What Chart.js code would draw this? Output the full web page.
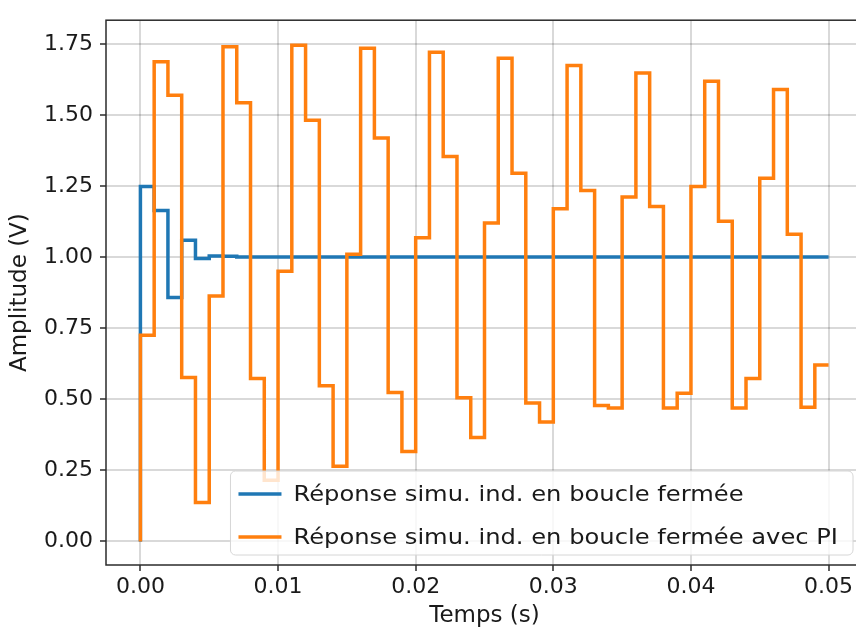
<!DOCTYPE html>
<html>
<head>
<meta charset="utf-8">
<script src="https://cdn.jsdelivr.net/npm/chart.js@4.4.1/dist/chart.umd.min.js"></script>
<style>
  html, body { margin: 0; padding: 0; background: #fff; overflow: hidden; }
  #wrap { width: 856px; height: 630px; overflow: hidden; }
</style>
</head>
<body>
<div id="wrap"><canvas id="stepCanvas" width="880" height="630"></canvas></div>
<script>
// temps d'échantillonnage (s)
var temps = [0, 0.001, 0.002, 0.003, 0.004, 0.005, 0.006, 0.007, 0.008, 0.009,
  0.010, 0.011, 0.012, 0.013, 0.014, 0.015, 0.016, 0.017, 0.018, 0.019,
  0.020, 0.021, 0.022, 0.023, 0.024, 0.025, 0.026, 0.027, 0.028, 0.029,
  0.030, 0.031, 0.032, 0.033, 0.034, 0.035, 0.036, 0.037, 0.038, 0.039,
  0.040, 0.041, 0.042, 0.043, 0.044, 0.045, 0.046, 0.047, 0.048, 0.049, 0.050];

// réponse en boucle fermée
var reponseBF = [0, 1.248, 1.164, 0.858, 1.059, 0.995, 1.004, 1.003, 1, 1,
  1, 1, 1, 1, 1, 1, 1, 1, 1, 1,
  1, 1, 1, 1, 1, 1, 1, 1, 1, 1,
  1, 1, 1, 1, 1, 1, 1, 1, 1, 1,
  1, 1, 1, 1, 1, 1, 1, 1, 1, 1, 1];

// réponse en boucle fermée avec PI
var reponsePI = [0, 0.725, 1.687, 1.569, 0.576, 0.137, 0.863, 1.740, 1.543, 0.573,
  0.215, 0.950, 1.745, 1.481, 0.547, 0.264, 1.010, 1.734, 1.419, 0.524,
  0.316, 1.068, 1.720, 1.354, 0.505, 0.365, 1.120, 1.699, 1.295, 0.487,
  0.420, 1.170, 1.674, 1.234, 0.478, 0.469, 1.211, 1.647, 1.178, 0.469,
  0.521, 1.248, 1.618, 1.126, 0.469, 0.573, 1.277, 1.589, 1.080, 0.472, 0.620];

var xTicks = [0, 0.01, 0.02, 0.03, 0.04, 0.05];
var yTicks = [0, 0.25, 0.5, 0.75, 1, 1.25, 1.5, 1.75];

var labels = ["Réponse simu. ind. en boucle fermée", "Réponse simu. ind. en boucle fermée avec PI"];

function toPoints(ys) {
  return temps.map(function (t, i) { return { x: t, y: ys[i] }; });
}

var police = "'DejaVu Sans', sans-serif";

// cadre complet autour de la zone de tracé + légende façon matplotlib
var cadrePlugin = {
  id: "cadre",
  afterDatasetsDraw: function (chart) {
    var ctx = chart.ctx, a = chart.chartArea;
    ctx.save();
    ctx.strokeStyle = "#2b2b2b";
    ctx.lineWidth = 1.5;
    ctx.strokeRect(a.left, a.top, a.right - a.left, a.bottom - a.top);

    // légende (texte un peu étiré comme sur l'original)
    var etire = 1.1;
    ctx.font = "22px " + police;
    var w = 0;
    chart.data.datasets.forEach(function (ds) {
      w = Math.max(w, ctx.measureText(ds.label).width * etire);
    });
    var boxW = w + 78, boxH = 84;
    var bx = 853 - boxW, by = a.bottom - 10 - boxH;
    ctx.beginPath();
    ctx.roundRect(bx, by, boxW, boxH, 5);
    ctx.fillStyle = "rgba(255,255,255,0.8)";
    ctx.fill();
    ctx.strokeStyle = "#d6d6d6";
    ctx.lineWidth = 1;
    ctx.stroke();
    chart.data.datasets.forEach(function (ds, i) {
      var yy = by + 23 + i * 43;
      ctx.beginPath();
      ctx.moveTo(bx + 8, yy);
      ctx.lineTo(bx + 51, yy);
      ctx.strokeStyle = ds.borderColor;
      ctx.lineWidth = 3.5;
      ctx.stroke();
      ctx.save();
      ctx.translate(bx + 63, yy + 1);
      ctx.scale(etire, 1);
      ctx.fillStyle = "#1a1a1a";
      ctx.textBaseline = "middle";
      ctx.fillText(ds.label, 0, 0);
      ctx.restore();
    });
    ctx.restore();
  }
};

var ctx = document.getElementById("stepCanvas");
var stepChart = new Chart(ctx, {
  type: "line",
  data: {
    datasets: [{
      label: labels[0],
      data: toPoints(reponseBF),
      borderColor: "#1f77b4",
      borderWidth: 3.5,
      stepped: "after",
      pointRadius: 0,
      fill: false,
      order: 2
    }, {
      label: labels[1],
      data: toPoints(reponsePI),
      borderColor: "#ff7f0e",
      borderWidth: 3.5,
      stepped: "after",
      pointRadius: 0,
      fill: false,
      order: 1
    }]
  },
  options: {
    responsive: false,
    animation: false,
    layout: { padding: { top: 13, right: 17, left: 0, bottom: 0 } },
    plugins: {
      legend: { display: false },
      tooltip: { enabled: false }
    },
    scales: {
      x: {
        type: "linear",
        min: -0.0025,
        max: 0.0525,
        afterBuildTicks: function (scale) {
          scale.ticks = xTicks.map(function (v) { return { value: v }; });
        },
        afterFit: function (scale) { scale.height = 65; },
        grid: { color: "rgba(0,0,0,0.15)", lineWidth: 2, tickColor: "#2b2b2b", tickLength: 6, tickWidth: 1.5 },
        border: { display: false },
        ticks: {
          color: "#1a1a1a",
          font: { family: police, size: 22 },
          padding: 3,
          maxRotation: 0,
          callback: function (v) { return v.toFixed(2); }
        },
        title: {
          display: true,
          text: "Temps (s)",
          color: "#1a1a1a",
          font: { family: police, size: 23 },
          padding: { top: 0, bottom: 0 }
        }
      },
      y: {
        min: -0.083,
        max: 1.833,
        afterBuildTicks: function (scale) {
          scale.ticks = yTicks.map(function (v) { return { value: v }; });
        },
        afterFit: function (scale) { scale.width = 106; },
        grid: { color: "rgba(0,0,0,0.15)", lineWidth: 2, tickColor: "#2b2b2b", tickLength: 6, tickWidth: 1.5 },
        border: { display: false },
        ticks: {
          color: "#1a1a1a",
          font: { family: police, size: 22 },
          padding: 7,
          callback: function (v) { return v.toFixed(2); }
        },
        title: {
          display: true,
          text: "Amplitude (V)",
          color: "#1a1a1a",
          font: { family: police, size: 23 },
          padding: { top: 6, bottom: 0 }
        }
      }
    }
  },
  plugins: [cadrePlugin]
});
</script>
</body>
</html>
